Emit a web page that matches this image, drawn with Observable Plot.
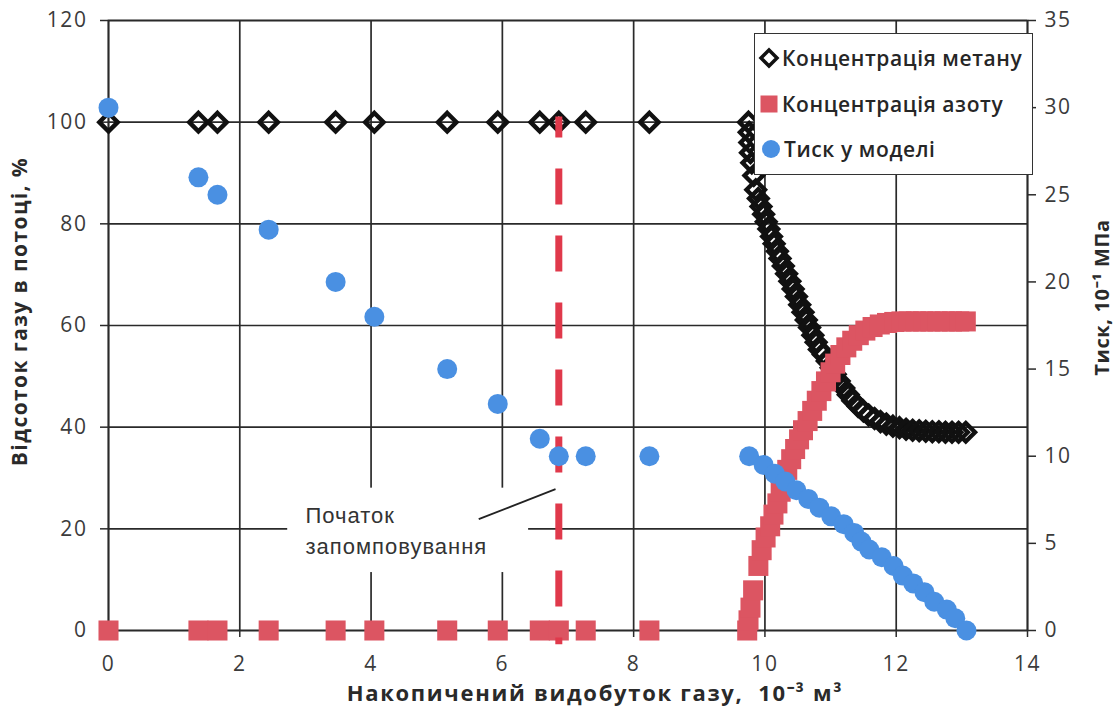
<!DOCTYPE html>
<html>
<head>
<meta charset="utf-8">
<script src="https://cdn.jsdelivr.net/npm/d3@7"></script>
<script src="https://cdn.jsdelivr.net/npm/@observablehq/plot@0.6"></script>
<style>
  html, body { margin: 0; padding: 0; background: #fff; }
  #wrap { position: relative; width: 1120px; height: 721px; overflow: hidden; }
  #wrap svg g[aria-label$="tick label"] text { letter-spacing: 1.6px; }
  #legend { position: absolute; left: 754px; top: 33px; width: 279px; height: 142px; box-sizing: border-box;
            background: #fff; border: 1.5px solid #333; font-family: "Open Sans", sans-serif; font-weight: 600;
            font-size: 21px; letter-spacing: 0.6px; color: #262626; }
  #legend .row { position: absolute; left: 0; height: 30px; display: flex; align-items: center; white-space: nowrap; }
  #legend svg { display: block; }
</style>
</head>
<body>
<div id="wrap"></div>
<script>
// ---------- data ----------
// early measurements (x in 10^-3 m^3)
const earlyX = [0, 1.37, 1.66, 2.44, 3.46, 4.05, 5.16, 5.93, 6.57, 6.86, 7.27, 8.24];
const earlyMethane = [100, 100, 100, 100, 100, 100, 100, 100, 100, 100, 100, 100];
const earlyNitrogen = [0, 0, 0, 0, 0, 0, 0, 0, 0, 0, 0, 0];
const earlyPressure = [30, 26, 25, 23, 20, 18, 15, 13, 11, 10, 10, 10];

// methane concentration after breakthrough
const methaneX = [9.75, 9.76, 9.77, 9.78, 9.80, 9.83, 9.86, 9.90, 9.94, 9.98, 10.02, 10.06, 10.10, 10.14, 10.19, 10.23,
  10.28, 10.33, 10.38, 10.43, 10.48, 10.53, 10.58, 10.63, 10.68, 10.73, 10.78, 10.83, 10.89, 10.95, 11.01, 11.07,
  11.13, 11.20, 11.27, 11.34, 11.42, 11.50, 11.58, 11.67, 11.76, 11.85, 11.95, 12.05, 12.15, 12.25, 12.35, 12.45,
  12.55, 12.65, 12.75, 12.85, 12.95, 13.06];
const methaneY = [100, 98, 96, 94, 92, 89.5, 86.7, 85.0, 83.4, 81.9, 80.4, 79.0, 77.5, 76.1, 74.6, 73.2,
  71.7, 70.2, 68.7, 67.2, 65.7, 64.1, 62.6, 61.1, 59.6, 58.1, 56.7, 55.3, 54.3, 53.0, 51.7, 50.4,
  49.1, 47.7, 46.4, 45.2, 44.1, 43.2, 42.4, 41.7, 41.1, 40.6, 40.2, 39.9, 39.6, 39.4, 39.3, 39.2,
  39.1, 39.1, 39.0, 39.0, 39.0, 39.0];

// nitrogen concentration after breakthrough
const nitrogenX = [9.73, 9.75, 9.78, 9.82, 9.90, 9.95, 10.01, 10.08, 10.13, 10.19, 10.24, 10.29, 10.34, 10.40, 10.46,
  10.52, 10.58, 10.65, 10.72, 10.79, 10.86, 10.93, 11.00, 11.07, 11.15, 11.24, 11.33, 11.43, 11.53, 11.64, 11.75,
  11.86, 11.97, 12.08, 12.19, 12.30, 12.41, 12.52, 12.63, 12.74, 12.85, 12.96, 13.06];
const nitrogenY = [0, 2.0, 4.5, 7.9, 12.7, 15.8, 18.3, 20.5, 22.8, 25.0, 27.3, 29.5, 31.6, 33.7, 35.7,
  37.6, 39.4, 41.2, 43.2, 45.2, 47.1, 49.0, 50.8, 52.5, 54.2, 55.7, 57.0, 58.1, 59.0, 59.7, 60.2,
  60.5, 60.7, 60.8, 60.8, 60.8, 60.8, 60.8, 60.8, 60.8, 60.8, 60.8, 60.8];

// model pressure after injection start (10^-1 MPa)
const pressureX = [9.76, 9.98, 10.15, 10.31, 10.48, 10.66, 10.83, 11.01, 11.20, 11.36, 11.47, 11.59, 11.78, 11.96,
  12.10, 12.26, 12.43, 12.58, 12.77, 12.90, 13.07];
const pressureY = [10.0, 9.5, 9.0, 8.55, 8.05, 7.55, 7.05, 6.55, 6.1, 5.6, 5.1, 4.65, 4.2, 3.7,
  3.15, 2.7, 2.2, 1.65, 1.2, 0.7, 0];

// axes
const xTicks = [0, 2, 4, 6, 8, 10, 12, 14];
const yTicks = [0, 20, 40, 60, 80, 100, 120];
const pTicks = [0, 5, 10, 15, 20, 25, 30, 35];
const yMax = 120, pMax = 35;

// injection start marker and annotation
const injectionX = [6.86];
const annotLines = ["Початок", "запомповування"];
const annotX = [3.0, 3.0];
const annotY = [22.6, 16.4];
const annotBox = {x1: 2.73, x2: 6.40, y1: 11.4, y2: 28.0};
const leader = {x1: 5.64, y1: 21.9, x2: 6.81, y2: 27.8};

const seriesNames = ["Концентрація метану", "Концентрація азоту", "Тиск у моделі"];
const xTitle = "Накопичений видобуток газу,  10⁻³ м³";
const yTitle = "Відсоток газу в потоці, %";
const pTitle = "Тиск, 10⁻¹ МПа";

// colours
const cMethane = "#111111", cNitrogen = "#dc5562", cPressure = "#4a90e2", cGrid = "#2a2a2a", cText = "#3b3b3b";

// ---------- tables ----------
const k = yMax / pMax;
const methane = earlyX.map((x, i) => ({x, y: earlyMethane[i]})).concat(methaneX.map((x, i) => ({x, y: methaneY[i]})));
const nitrogen = earlyX.map((x, i) => ({x, y: earlyNitrogen[i]})).concat(nitrogenX.map((x, i) => ({x, y: nitrogenY[i]})));
const pressure = earlyX.map((x, i) => ({x, p: earlyPressure[i]})).concat(pressureX.map((x, i) => ({x, p: pressureY[i]})));
const annot = annotLines.map((t, i) => ({t, x: annotX[i], y: annotY[i]}));

const chart = Plot.plot({
  width: 1120, height: 721,
  marginLeft: 108, marginRight: 93, marginTop: 20, marginBottom: 91,
  x: {domain: [0, 14]},
  y: {domain: [0, yMax]},
  style: {fontFamily: "'Open Sans', sans-serif", fontSize: "21px", color: cText, background: "#fff", overflow: "visible"},
  marks: [
    Plot.gridX(xTicks, {stroke: cGrid, strokeOpacity: 1, strokeWidth: 1.7}),
    Plot.gridY(yTicks, {stroke: cGrid, strokeOpacity: 1, strokeWidth: 1.7}),
    Plot.frame({stroke: cGrid, strokeWidth: 1.7}),
    Plot.rect([annotBox], {x1: "x1", x2: "x2", y1: "y1", y2: "y2", fill: "#fff"}),
    Plot.axisX(xTicks, {tickSize: 7, tickPadding: 19, label: null, stroke: cGrid, strokeWidth: 1.5, fill: cText}),
    Plot.axisY(yTicks, {anchor: "left", tickSize: 8, tickPadding: 13, label: null, stroke: cGrid, strokeWidth: 1.5, fill: cText}),
    Plot.axisY(pTicks.map(p => p * k), {anchor: "right", tickSize: 8, tickPadding: 9, label: null,
      tickFormat: d => String(Math.round(d / k)), stroke: cGrid, strokeWidth: 1.5, fill: cText}),
    Plot.dot(methane, {x: "x", y: "y", symbol: "diamond2", r: 8.3, stroke: cMethane, fill: "none", strokeWidth: 4.4}),
    Plot.dot(nitrogen, {x: "x", y: "y", symbol: "square", r: 11.3, fill: cNitrogen}),
    Plot.ruleX(injectionX, {y1: 101, y2: -2.8, stroke: "#e0394b", strokeWidth: 7, strokeDasharray: "36,31", strokeDashoffset: 15}),
    Plot.dot(pressure, {x: "x", y: d => d.p * k, r: 10, fill: cPressure}),
    Plot.link([leader], {x1: "x1", y1: "y1", x2: "x2", y2: "y2", stroke: "#222", strokeWidth: 1.8}),
    Plot.text(annot, {x: "x", y: "y", text: "t", textAnchor: "start", fontFamily: "'Liberation Sans', Arial, sans-serif",
      fontSize: 22, fill: "#333"}),
    Plot.text([xTitle], {frameAnchor: "bottom", text: d => d, dx: 27, dy: 63, textAnchor: "middle", lineAnchor: "middle",
      fontWeight: "bold", fontSize: 22, fill: "#2a2a2a"}),
    Plot.text([yTitle], {frameAnchor: "left", text: d => d, dx: -88, dy: -14, rotate: -90, textAnchor: "middle", lineAnchor: "middle",
      fontWeight: "bold", fontSize: 21, fill: "#2a2a2a"}),
    Plot.text([pTitle], {frameAnchor: "right", text: d => d, dx: 75, dy: -28, rotate: -90, textAnchor: "middle", lineAnchor: "middle",
      fontWeight: "bold", fontSize: 20, fill: "#2a2a2a"})
  ]
});

// extra letter spacing to match the wide lettering of the original
const spacing = new Map([[xTitle, "1.7px"], [yTitle, "1.4px"], [pTitle, "0.6px"], [annotLines[0], "1px"], [annotLines[1], "1px"]]);
d3.select(chart).selectAll('g[aria-label="text"] text').each(function () {
  const s = spacing.get(this.textContent);
  if (s) this.setAttribute("letter-spacing", s);
});

const wrap = document.getElementById("wrap");
wrap.appendChild(chart);

// legend (overlay inside plot area, as in the original)
const legend = document.createElement("div");
legend.id = "legend";
const rowTops = [9, 55, 100];
const markers = [
  `<svg width="22" height="22"><path d="M11,3 L19,11 L11,19 L3,11 Z" fill="#fff" stroke="${cMethane}" stroke-width="3.5"/></svg>`,
  `<svg width="22" height="22"><rect x="2.5" y="2.5" width="17" height="17" fill="${cNitrogen}"/></svg>`,
  `<svg width="22" height="22"><circle cx="11" cy="11" r="9" fill="${cPressure}"/></svg>`
];
seriesNames.forEach((name, i) => {
  const row = document.createElement("div");
  row.className = "row";
  row.style.top = rowTops[i] + "px";
  row.style.left = (i === 2 ? 5 : 3) + "px";
  row.innerHTML = markers[i] + `<span style="margin-left:2px">${name}</span>`;
  legend.appendChild(row);
});
wrap.appendChild(legend);
</script>
</body>
</html>
